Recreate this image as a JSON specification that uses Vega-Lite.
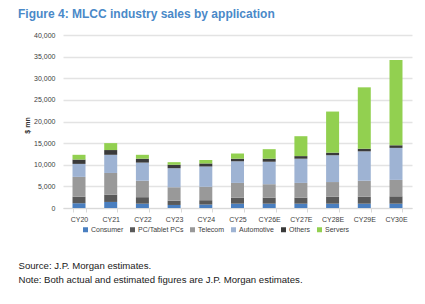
{
  "$schema": "https://vega.github.io/schema/vega-lite/v6.json",
  "autosize": {"type": "none"},
  "width": 349,
  "height": 173,
  "padding": {"left": 63, "top": 35, "right": 13, "bottom": 96},
  "background": "white",
  "config": {
    "font": "Liberation Sans",
    "view": {"stroke": null}
  },
  "title": {
    "text": "Figure 4: MLCC industry sales by application",
    "anchor": "start",
    "frame": "group",
    "dx": -45,
    "offset": 10,
    "font": "Liberation Sans",
    "fontSize": 12,
    "fontWeight": "bold",
    "color": "#4a89c8"
  },
  "data": {
    "values": [
      {"year": "CY20", "app": "Consumer", "sales": 1100},
      {"year": "CY20", "app": "PC/Tablet PCs", "sales": 1500},
      {"year": "CY20", "app": "Telecom", "sales": 4600},
      {"year": "CY20", "app": "Automotive", "sales": 3000},
      {"year": "CY20", "app": "Others", "sales": 1000},
      {"year": "CY20", "app": "Servers", "sales": 1100},
      {"year": "CY21", "app": "Consumer", "sales": 1400},
      {"year": "CY21", "app": "PC/Tablet PCs", "sales": 1700},
      {"year": "CY21", "app": "Telecom", "sales": 5000},
      {"year": "CY21", "app": "Automotive", "sales": 4200},
      {"year": "CY21", "app": "Others", "sales": 1100},
      {"year": "CY21", "app": "Servers", "sales": 1600},
      {"year": "CY22", "app": "Consumer", "sales": 1000},
      {"year": "CY22", "app": "PC/Tablet PCs", "sales": 1500},
      {"year": "CY22", "app": "Telecom", "sales": 3800},
      {"year": "CY22", "app": "Automotive", "sales": 4200},
      {"year": "CY22", "app": "Others", "sales": 900},
      {"year": "CY22", "app": "Servers", "sales": 900},
      {"year": "CY23", "app": "Consumer", "sales": 700},
      {"year": "CY23", "app": "PC/Tablet PCs", "sales": 1000},
      {"year": "CY23", "app": "Telecom", "sales": 3100},
      {"year": "CY23", "app": "Automotive", "sales": 4400},
      {"year": "CY23", "app": "Others", "sales": 800},
      {"year": "CY23", "app": "Servers", "sales": 600},
      {"year": "CY24", "app": "Consumer", "sales": 800},
      {"year": "CY24", "app": "PC/Tablet PCs", "sales": 1000},
      {"year": "CY24", "app": "Telecom", "sales": 3100},
      {"year": "CY24", "app": "Automotive", "sales": 4700},
      {"year": "CY24", "app": "Others", "sales": 700},
      {"year": "CY24", "app": "Servers", "sales": 800},
      {"year": "CY25", "app": "Consumer", "sales": 1000},
      {"year": "CY25", "app": "PC/Tablet PCs", "sales": 1400},
      {"year": "CY25", "app": "Telecom", "sales": 3400},
      {"year": "CY25", "app": "Automotive", "sales": 5000},
      {"year": "CY25", "app": "Others", "sales": 600},
      {"year": "CY25", "app": "Servers", "sales": 1200},
      {"year": "CY26E", "app": "Consumer", "sales": 1000},
      {"year": "CY26E", "app": "PC/Tablet PCs", "sales": 1400},
      {"year": "CY26E", "app": "Telecom", "sales": 3100},
      {"year": "CY26E", "app": "Automotive", "sales": 5200},
      {"year": "CY26E", "app": "Others", "sales": 700},
      {"year": "CY26E", "app": "Servers", "sales": 2200},
      {"year": "CY27E", "app": "Consumer", "sales": 1000},
      {"year": "CY27E", "app": "PC/Tablet PCs", "sales": 1400},
      {"year": "CY27E", "app": "Telecom", "sales": 3400},
      {"year": "CY27E", "app": "Automotive", "sales": 5600},
      {"year": "CY27E", "app": "Others", "sales": 600},
      {"year": "CY27E", "app": "Servers", "sales": 4600},
      {"year": "CY28E", "app": "Consumer", "sales": 1000},
      {"year": "CY28E", "app": "PC/Tablet PCs", "sales": 1600},
      {"year": "CY28E", "app": "Telecom", "sales": 3400},
      {"year": "CY28E", "app": "Automotive", "sales": 6200},
      {"year": "CY28E", "app": "Others", "sales": 600},
      {"year": "CY28E", "app": "Servers", "sales": 9500},
      {"year": "CY29E", "app": "Consumer", "sales": 1000},
      {"year": "CY29E", "app": "PC/Tablet PCs", "sales": 1600},
      {"year": "CY29E", "app": "Telecom", "sales": 3700},
      {"year": "CY29E", "app": "Automotive", "sales": 6800},
      {"year": "CY29E", "app": "Others", "sales": 600},
      {"year": "CY29E", "app": "Servers", "sales": 14200},
      {"year": "CY30E", "app": "Consumer", "sales": 1000},
      {"year": "CY30E", "app": "PC/Tablet PCs", "sales": 1700},
      {"year": "CY30E", "app": "Telecom", "sales": 3800},
      {"year": "CY30E", "app": "Automotive", "sales": 7400},
      {"year": "CY30E", "app": "Others", "sales": 600},
      {"year": "CY30E", "app": "Servers", "sales": 19700}
    ]
  },
  "transform": [
    {
      "calculate": "indexof(['Consumer', 'PC/Tablet PCs', 'Telecom', 'Automotive', 'Others', 'Servers'], datum.app)",
      "as": "stackRank"
    }
  ],
  "mark": {"type": "bar"},
  "encoding": {
    "x": {
      "field": "year",
      "type": "nominal",
      "sort": null,
      "scale": {"paddingInner": 0.59, "paddingOuter": 0.3},
      "axis": {
        "title": ["Source: J.P. Morgan estimates.", "Note: Both actual and estimated figures are J.P. Morgan estimates."],
        "titleAnchor": "start",
        "titleAlign": "left",
        "titleX": -45,
        "titleY": 60,
        "titleBaseline": "alphabetic",
        "titleFontSize": 9.6,
        "titleFontWeight": "normal",
        "titleColor": "#1a1a1a",
        "titleLineHeight": 14.5,
        "labelAngle": 0,
        "labelFontSize": 7,
        "labelColor": "#404040",
        "labelPadding": 3.5,
        "tickBand": "extent",
        "tickSize": 4,
        "tickColor": "#d9d9d9",
        "domainColor": "#d9d9d9",
        "grid": false
      }
    },
    "y": {
      "field": "sales",
      "type": "quantitative",
      "stack": "zero",
      "scale": {"domain": [0, 40000], "nice": false},
      "axis": {
        "values": [0, 5000, 10000, 15000, 20000, 25000, 30000, 35000, 40000],
        "format": ",.0f",
        "title": "$ mn",
        "titleX": -36,
        "titleY": 90,
        "titleBaseline": "middle",
        "titleFontSize": 7,
        "titleFontWeight": "bold",
        "titleColor": "#333333",
        "labelFontSize": 7,
        "labelColor": "#404040",
        "labelPadding": 8,
        "domain": false,
        "ticks": false,
        "gridColor": "#e3e3e3",
        "gridWidth": 1.5
      }
    },
    "order": {"field": "stackRank", "type": "quantitative", "sort": "ascending"},
    "color": {
      "field": "app",
      "type": "nominal",
      "scale": {
        "domain": ["Consumer", "PC/Tablet PCs", "Telecom", "Automotive", "Others", "Servers"],
        "range": ["#4a7fc0", "#595959", "#999999", "#9eb3d3", "#3a3a3a", "#92d050"]
      },
      "legend": {
        "title": null,
        "orient": "none",
        "legendX": 19,
        "legendY": 191,
        "direction": "horizontal",
        "symbolType": "square",
        "symbolSize": 25,
        "symbolStrokeWidth": 0,
        "labelFontSize": 7,
        "labelColor": "#404040",
        "labelOffset": 2,
        "columnPadding": 5
      }
    }
  }
}
